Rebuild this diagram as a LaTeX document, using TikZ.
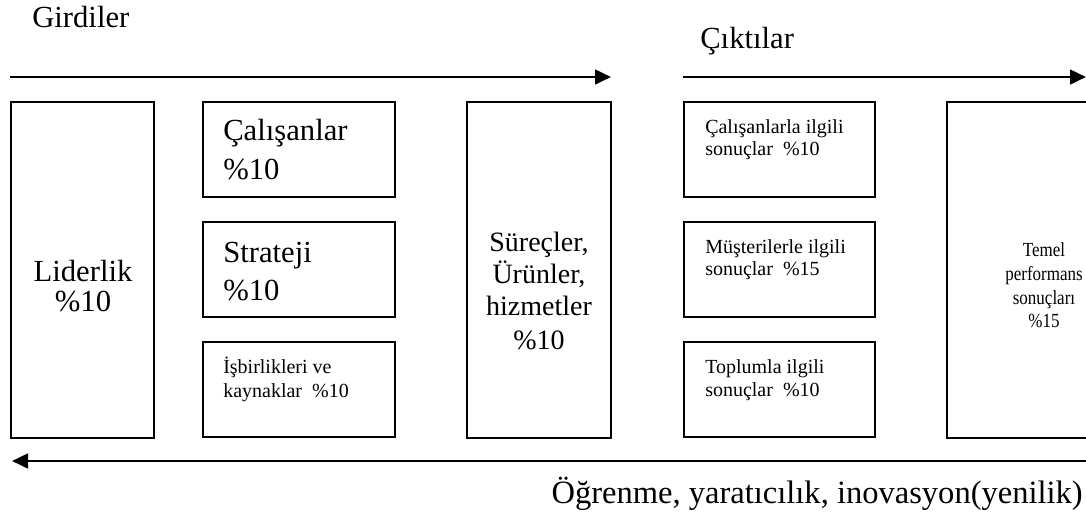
\documentclass[tikz,border=0pt]{standalone}
\usepackage{fontspec}
\setmainfont{Liberation Serif}
\newfontfamily\temfont[FakeStretch=0.85]{Liberation Serif}
\usetikzlibrary{arrows.meta,fit}
\begin{document}
\begin{tikzpicture}[x=0.75pt,y=-0.75pt,
  box/.style={draw, line width=1.3pt, inner sep=0pt},
  big/.style={font=\fontsize{23}{27}\selectfont, inner sep=0pt},
  mid/.style={font=\fontsize{21}{25}\selectfont, inner sep=0pt},
  small/.style={font=\fontsize{15}{17}\selectfont, inner sep=0pt},
  tiny/.style={font=\temfont\fontsize{15}{17}\selectfont, inner sep=0pt},
  flow/.style={line width=2pt, -{Triangle[length=12pt,width=11pt]}}]
\useasboundingbox (0,0) rectangle (1086,515);
\clip (0,0) rectangle (1086,515);
% boxes
\node[box, fit={(11,102) (154,438)}] (lid) {};
\node[box, fit={(203,102) (395,197)}] (cal) {};
\node[box, fit={(203,222) (395,317)}] (str) {};
\node[box, fit={(203,342) (395,437)}] (isb) {};
\node[box, fit={(467,102) (611,438)}] (sur) {};
\node[box, fit={(684,102) (875,197)}] (cil) {};
\node[box, fit={(684,222) (875,317)}] (mil) {};
\node[box, fit={(684,342) (875,437)}] (til) {};
\node[box, fit={(947,102) (1100,438)}] (tem) {};
% arrows
\coordinate (a1s) at (10,77);  \coordinate (a1e) at (611,77);
\coordinate (a2s) at (683,77); \coordinate (a2e) at (1086,77);
\coordinate (a3s) at (1090,461); \coordinate (a3e) at (12,461);
\draw[flow] (a1s) -- (a1e);
\draw[flow] (a2s) -- (a2e);
\draw[flow] (a3s) -- (a3e);
% headings
\node[big, anchor=base west] (gir) at (32,27) {Girdiler};
\node[big, anchor=base west] (cik) at (700,48) {Çıktılar};
\node[big, anchor=base east, font=\fontsize{24.4}{28}\selectfont] (ogr) at (1083,503) {Öğrenme, yaratıcılık, inovasyon(yenilik)};
% Liderlik
\node[big, anchor=base] (lid1) at (83,281) {Liderlik};
\node[big, anchor=base] (lid2) at (83,311) {\%10};
% Çalışanlar
\node[big, anchor=base west] (cal1) at (223,140) {Çalışanlar};
\node[big, anchor=base west] (cal2) at (223,179) {\%10};
% Strateji
\node[big, anchor=base west] (str1) at (223,262) {Strateji};
\node[big, anchor=base west] (str2) at (223,300) {\%10};
% İşbirlikleri
\node[small, anchor=base west] (isb1) at (223,373) {İşbirlikleri ve};
\node[small, anchor=base west] (isb2) at (223,397) {kaynaklar\ \ \%10};
% Süreçler
\node[mid, anchor=base] (sur1) at (539,251) {Süreçler,};
\node[mid, anchor=base] (sur2) at (539,283) {Ürünler,};
\node[mid, anchor=base] (sur3) at (539,315) {hizmetler};
\node[mid, anchor=base] (sur4) at (539,349) {\%10};
% results
\node[small, anchor=base west] (cil1) at (705,133) {Çalışanlarla ilgili};
\node[small, anchor=base west] (cil2) at (705,155) {sonuçlar\ \ \%10};
\node[small, anchor=base west] (mil1) at (705,253) {Müşterilerle ilgili};
\node[small, anchor=base west] (mil2) at (705,275) {sonuçlar\ \ \%15};
\node[small, anchor=base west] (til1) at (705,373) {Toplumla ilgili};
\node[small, anchor=base west] (til2) at (705,396) {sonuçlar\ \ \%10};
% Temel
\node[tiny, anchor=base] (tem1) at (1044,256) {Temel};
\node[tiny, anchor=base] (tem2) at (1044,280) {performans};
\node[tiny, anchor=base] (tem3) at (1044,304) {sonuçları};
\node[tiny, anchor=base] (tem4) at (1044,327) {\%15};
\end{tikzpicture}
\end{document}
